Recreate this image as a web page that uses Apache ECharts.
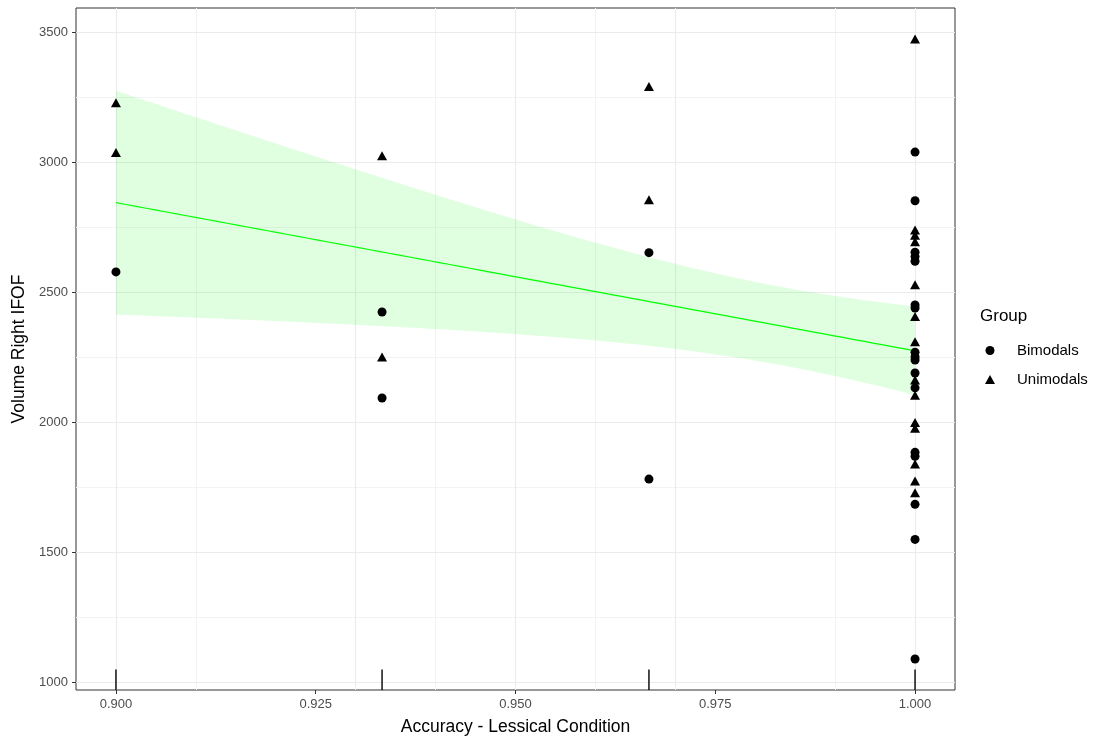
<!DOCTYPE html>
<html>
<head>
<meta charset="utf-8">
<script src="https://cdn.jsdelivr.net/npm/echarts@6/dist/echarts.min.js"></script>
<style>
  html, body { margin: 0; padding: 0; background: #ffffff; }
  #chart { width: 1095px; height: 738px; }
</style>
</head>
<body>
<div id="chart"></div>
<script>
// Accuracy (proportion correct) and right IFOF volume, per participant group
const bimodalAccuracy = [0.9, 0.9333, 0.9333, 0.9667, 0.9667,
  1, 1, 1, 1, 1, 1, 1, 1, 1, 1, 1, 1, 1, 1, 1, 1, 1];
const bimodalVolume = [2579, 2425, 2094, 2653, 1782,
  3040, 2853, 2655, 2638, 2620, 2452, 2440, 2270, 2252, 2240, 2190, 2133, 1885, 1870, 1685, 1550, 1090];

const unimodalAccuracy = [0.9, 0.9, 0.9333, 0.9333, 0.9667, 0.9667,
  1, 1, 1, 1, 1, 1, 1, 1, 1, 1, 1, 1, 1, 1];
const unimodalVolume = [3230, 3038, 3026, 2252, 3292, 2857,
  3475, 2740, 2720, 2695, 2530, 2408, 2310, 2163, 2105, 2000, 1978, 1840, 1775, 1730];

const groupNames = ['Bimodals', 'Unimodals'];
const xTicks = [0.9, 0.925, 0.95, 0.975, 1.0];
const xMinorTicks = [0.9125, 0.9375, 0.9625, 0.9875];
const yTicks = [1000, 1500, 2000, 2500, 3000, 3500];
const yMinorTicks = [1250, 1750, 2250, 2750, 3250];

// ---- pooled linear fit with 95% confidence band ----
const allX = bimodalAccuracy.concat(unimodalAccuracy);
const allY = bimodalVolume.concat(unimodalVolume);
const n = allX.length;
const meanX = allX.reduce((a, b) => a + b, 0) / n;
const meanY = allY.reduce((a, b) => a + b, 0) / n;
let sxx = 0, sxy = 0;
for (let i = 0; i < n; i++) {
  sxx += (allX[i] - meanX) ** 2;
  sxy += (allX[i] - meanX) * (allY[i] - meanY);
}
const slope = sxy / sxx;
const intercept = meanY - slope * meanX;
let sse = 0;
for (let i = 0; i < n; i++) sse += (allY[i] - (intercept + slope * allX[i])) ** 2;
const sigma = Math.sqrt(sse / (n - 2));

function tQuantile975(df) {
  const z = 1.959964;
  return z + (z ** 3 + z) / (4 * df) + (5 * z ** 5 + 16 * z ** 3 + 3 * z) / (96 * df * df);
}
const tCrit = tQuantile975(n - 2);

const xLo = Math.min(...allX), xHi = Math.max(...allX);
const fitLine = [], bandUpper = [], bandLower = [];
for (let k = 0; k < 80; k++) {
  const x = xLo + (xHi - xLo) * k / 79;
  const fit = intercept + slope * x;
  const se = sigma * Math.sqrt(1 / n + (x - meanX) ** 2 / sxx);
  fitLine.push([x, fit]);
  bandUpper.push([x, fit + tCrit * se]);
  bandLower.push([x, fit - tCrit * se]);
}

// ---- axis ranges with 5% padding ----
const yLo = Math.min(...allY), yHi = Math.max(...allY);
const xPad = (xHi - xLo) * 0.05, yPad = (yHi - yLo) * 0.05;
const xMin = xLo - xPad, xMax = xHi + xPad;
const yMin = yLo - yPad, yMax = yHi + yPad;

const rugValues = Array.from(new Set(allX));

const gridMajor = { color: '#ebebeb', width: 1.1, type: 'solid' };
const gridMinor = { color: '#f3f3f3', width: 1, type: 'solid' };

function gridLines(values, key, style) {
  return values.map(v => ({ [key]: v, lineStyle: style }));
}

const chart = echarts.init(document.getElementById('chart'), null, { renderer: 'canvas' });

chart.setOption({
  animation: false,
  backgroundColor: '#ffffff',
  textStyle: { fontFamily: 'Liberation Sans, Arial, sans-serif' },
  grid: {
    left: 76, right: 140, top: 8, bottom: 48,
    outerBoundsMode: 'none',
    containLabel: false,
    show: true, borderColor: '#333333', borderWidth: 1, backgroundColor: '#ffffff'
  },
  xAxis: {
    type: 'value', min: xMin, max: xMax,
    name: 'Accuracy - Lessical Condition',
    nameLocation: 'middle', nameGap: 28,
    nameTextStyle: { fontSize: 17.5, color: '#000000' },
    axisLine: { show: false },
    splitLine: { show: false },
    axisTick: { show: true, customValues: xTicks, length: 4, lineStyle: { color: '#333333' } },
    axisLabel: {
      customValues: xTicks, color: '#4d4d4d', fontSize: 13, margin: 8,
      formatter: v => v.toFixed(3)
    }
  },
  yAxis: {
    type: 'value', min: yMin, max: yMax,
    name: 'Volume Right IFOF',
    nameLocation: 'middle', nameGap: 41,
    nameTextStyle: { fontSize: 17.5, color: '#000000' },
    axisLine: { show: false },
    splitLine: { show: false },
    axisTick: { show: true, customValues: yTicks, length: 4, lineStyle: { color: '#333333' } },
    axisLabel: {
      customValues: yTicks, color: '#4d4d4d', fontSize: 13, margin: 8,
      formatter: v => String(Math.round(v))
    }
  },
  legend: {
    data: groupNames,
    orient: 'vertical',
    left: 985, top: 343,
    itemWidth: 10, itemHeight: 9, itemGap: 14,
    padding: 0,
    selectedMode: false,
    itemStyle: { opacity: 1 },
    textStyle: { fontSize: 15, color: '#000000', lineHeight: 14, padding: [0, 0, 0, 17] }
  },
  graphic: [{
    type: 'text', left: 980, top: 308,
    style: { text: 'Group', fontSize: 17, fill: '#000000', fontFamily: 'Liberation Sans, Arial, sans-serif' }
  }],
  series: [
    {
      // panel grid lines
      type: 'line', data: [], silent: true, z: 1,
      markLine: {
        z: 1,
        silent: true, symbol: 'none', label: { show: false }, animation: false,
        data: [].concat(
          gridLines(yMinorTicks, 'yAxis', gridMinor),
          gridLines(xMinorTicks, 'xAxis', gridMinor),
          gridLines(yTicks, 'yAxis', gridMajor),
          gridLines(xTicks, 'xAxis', gridMajor)
        )
      }
    },
    {
      // confidence band
      type: 'custom', silent: true, z: 2,
      data: [[meanX, meanY]],
      renderItem: function (params, api) {
        const pts = bandUpper.map(p => api.coord(p))
          .concat(bandLower.slice().reverse().map(p => api.coord(p)));
        return {
          type: 'polygon',
          shape: { points: pts },
          style: { fill: 'rgba(0, 255, 0, 0.12)', stroke: 'none' }
        };
      }
    },
    {
      type: 'line', data: fitLine, showSymbol: false, silent: true, z: 3,
      lineStyle: { color: '#00ff00', width: 1.2 }
    },
    {
      // rug marks along the x axis
      type: 'custom', silent: true, z: 8,
      data: rugValues.map(v => [v]),
      renderItem: function (params, api) {
        const base = api.coord([api.value(0), yMin]);
        const len = api.size([0, (yMax - yMin) * 0.03])[1];
        return {
          type: 'line',
          shape: { x1: base[0], y1: base[1], x2: base[0], y2: base[1] - len },
          style: { stroke: '#000000', lineWidth: 1.4 }
        };
      }
    },
    {
      name: 'Bimodals', type: 'scatter', z: 9,
      symbol: 'circle', symbolSize: 9,
      itemStyle: { color: '#000000', opacity: 1 },
      data: bimodalAccuracy.map((x, i) => [x, bimodalVolume[i]])
    },
    {
      name: 'Unimodals', type: 'scatter', z: 9,
      symbol: 'triangle', symbolSize: [10, 9],
      itemStyle: { color: '#000000', opacity: 1 },
      data: unimodalAccuracy.map((x, i) => [x, unimodalVolume[i]])
    }
  ]
});
</script>
</body>
</html>
